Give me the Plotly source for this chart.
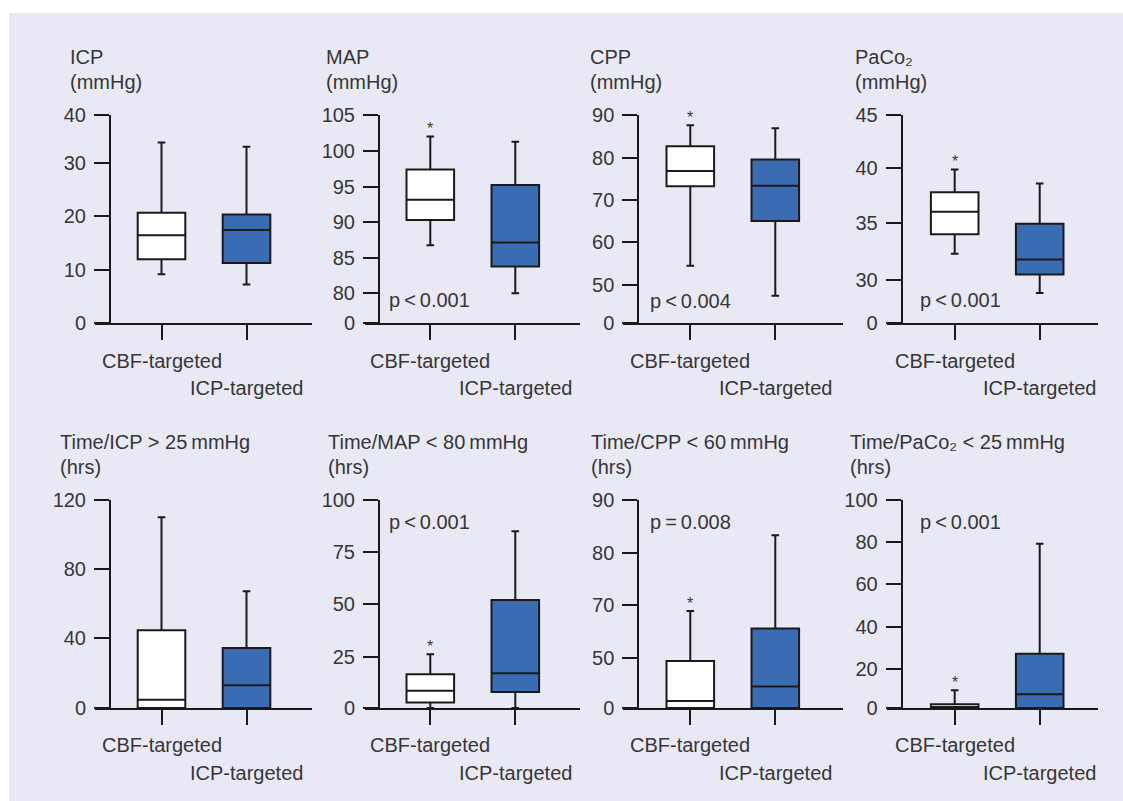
import numpy as np
import plotly.graph_objects as go

W, H = 1123, 801

groups = ["CBF-targeted", "ICP-targeted"]

# box stats per group: [lower whisker, q1, median, q3, upper whisker]
icp_cbf = [9.1, 11.9, 16.4, 20.6, 34.2]
icp_icp = [7.2, 11.2, 17.4, 20.3, 33.3]
map_cbf = [86.7, 90.2, 93.1, 97.4, 102.0]
map_icp = [79.9, 83.7, 87.1, 95.2, 101.3]
cpp_cbf = [54.5, 73.3, 76.9, 82.7, 87.6]
cpp_icp = [47.5, 65.1, 73.4, 79.6, 86.9]
paco2_cbf = [32.3, 34.0, 36.0, 37.8, 39.9]
paco2_icp = [28.9, 30.5, 31.8, 34.9, 38.6]
t_icp_cbf = [0, 0, 4.8, 44.6, 110.0]
t_icp_icp = [0, 0, 13.1, 34.4, 67.1]
t_map_cbf = [0, 2.7, 8.4, 16.5, 26.3]
t_map_icp = [0, 7.9, 17.0, 52.1, 84.9]
t_cpp_cbf = [0, 0, 7.0, 46.7, 67.8]
t_cpp_icp = [0, 0, 21.4, 61.1, 83.3]
t_paco2_cbf = [0, 0, 0.5, 1.9, 9.1]
t_paco2_icp = [0, 0, 7.1, 27.3, 79.3]

# tick labels
icp_ticks = [0, 10, 20, 30, 40]
map_ticks = [0, 80, 85, 90, 95, 100, 105]
cpp_ticks = [0, 50, 60, 70, 80, 90]
paco2_ticks = [0, 30, 35, 40, 45]
t_icp_ticks = [0, 40, 80, 120]
t_map_ticks = [0, 25, 50, 75, 100]
t_cpp_ticks = [0, 50, 70, 80, 90]
t_paco2_ticks = [0, 20, 40, 60, 80, 100]

titles = [
    ("ICP", "(mmHg)"), ("MAP", "(mmHg)"), ("CPP", "(mmHg)"), ("PaCo\u2082", "(mmHg)"),
    ("Time/ICP > 25\u2009mmHg", "(hrs)"), ("Time/MAP < 80\u2009mmHg", "(hrs)"),
    ("Time/CPP < 60\u2009mmHg", "(hrs)"), ("Time/PaCo\u2082 < 25\u2009mmHg", "(hrs)"),
]
p_texts = [None, "p\u2009<\u20090.001", "p\u2009<\u20090.004", "p\u2009<\u20090.001",
           None, "p\u2009<\u20090.001", "p\u2009=\u20090.008", "p\u2009<\u20090.001"]
stars = [False, True, True, True, False, True, True, True]

data = [
    (icp_cbf, icp_icp, icp_ticks), (map_cbf, map_icp, map_ticks),
    (cpp_cbf, cpp_icp, cpp_ticks), (paco2_cbf, paco2_icp, paco2_ticks),
    (t_icp_cbf, t_icp_icp, t_icp_ticks), (t_map_cbf, t_map_icp, t_map_ticks),
    (t_cpp_cbf, t_cpp_icp, t_cpp_ticks), (t_paco2_cbf, t_paco2_icp, t_paco2_ticks),
]

# ---- layout (pixels) ----
# tick offsets above the baseline, as drawn in the original (axes are uneven / broken)
tick_offsets = [
    [0, 53.5, 107, 160.5, 208],
    [0, 30.5, 65.5, 101.5, 136.5, 172, 208],
    [0, 38, 80.7, 122.7, 165.3, 208],
    [0, 42.7, 100.3, 154.7, 208],
    [0, 69.7, 139, 208],
    [0, 51, 103.7, 156.3, 208],
    [0, 50.3, 102.7, 155.3, 208],
    [0, 39, 81, 123.7, 165.7, 208],
]
broken = [False, True, True, True, False, False, False, False]
baselines = [323, 708]
col_yaxis = [110, 379, 638.3, 901.7]
col_left = [95, 365, 623.3, 887]
col_right = [312, 580, 843, 1098]
col_cbf = [161.5, 430.3, 690.3, 954.7]
spacing = 85
title_x = [[67.5, 324, 588, 853], [57.5, 325.5, 589, 848]]
title_y = [[57, 81.7], [441.7, 467.3]]
label_y = [[360.7, 388.3], [745, 773.3]]
p_pos = [[None, (387, 300), (648, 301), (918, 300)],
         [None, (387, 521.7), (648, 521.7), (918, 521.7)]]

FONT = "Liberation Sans, Arial, sans-serif"
TXT = "#363636"
LINE = "#1a1a1a"
BLUE = "#3a6cb3"
BG = "#e9e9f5"
LW = 2


def px(x):
    return x / W


def py(y):
    return 1 - y / H


def scale(vals, offs, brk):
    v = list(map(float, vals))
    if brk:
        v[0] = v[1] - (v[2] - v[1]) * offs[1] / (offs[2] - offs[1])
    return v


fig = go.Figure()
annotations = []

for i in range(8):
    row, col = divmod(i, 4)
    n = i + 1
    xa = "x" if n == 1 else f"x{n}"
    ya = "y" if n == 1 else f"y{n}"
    cbf, icp, ticks = data[i]
    offs = tick_offsets[i]
    vals = scale(ticks, offs, broken[i])

    def yp(v):
        return float(np.interp(v, vals, offs))

    base = baselines[row]
    x0 = 1 - (col_cbf[col] - col_left[col]) / spacing
    x1 = x0 + (col_right[col] - col_left[col]) / spacing

    for k, (stats, fill) in enumerate([(cbf, "white"), (icp, BLUE)]):
        lo, q1, med, q3, hi = [yp(s) for s in stats]
        fig.add_trace(go.Box(
            x=[k + 1], q1=[q1], median=[med], q3=[q3], lowerfence=[lo], upperfence=[hi],
            width=0.56, whiskerwidth=0.16, fillcolor=fill,
            line=dict(color=LINE, width=LW), boxpoints=False,
            xaxis=xa, yaxis=ya, showlegend=False, hoverinfo="skip",
        ))

    fig.layout[("xaxis" if n == 1 else f"xaxis{n}")] = dict(
        domain=[px(col_left[col]), px(col_right[col])], range=[x0, x1],
        anchor=ya, showline=True, linecolor=LINE, linewidth=LW,
        ticks="outside", ticklen=15, tickwidth=LW, tickcolor=LINE,
        tickvals=[1, 2], showticklabels=False, showgrid=False, zeroline=False,
        automargin=False,
    )
    fig.layout[("yaxis" if n == 1 else f"yaxis{n}")] = dict(
        domain=[py(base), py(base - 208)], range=[0, 208],
        anchor="free", position=px(col_yaxis[col]),
        showline=True, linecolor=LINE, linewidth=LW,
        ticks="outside", ticklen=15, tickwidth=LW, tickcolor=LINE,
        tickvals=offs, ticktext=[str(t) for t in ticks],
        tickfont=dict(size=20, color=TXT, family=FONT), ticklabelstandoff=4,
        showgrid=False, zeroline=False, automargin=False,
    )

    # titles
    for j, t in enumerate(titles[i]):
        annotations.append(dict(
            text=t, x=px(title_x[row][col]), y=py(title_y[row][j]),
            xref="paper", yref="paper", xanchor="left", yanchor="middle",
            showarrow=False, font=dict(size=20, color=TXT, family=FONT),
        ))
    # group labels, staggered
    for k, g in enumerate(groups):
        annotations.append(dict(
            text=g, x=px(col_cbf[col] + k * spacing), y=py(label_y[row][k]),
            xref="paper", yref="paper", xanchor="center", yanchor="middle",
            showarrow=False, font=dict(size=20, color=TXT, family=FONT),
        ))
    if p_texts[i]:
        pxp, pyp = p_pos[row][col]
        annotations.append(dict(
            text=p_texts[i], x=px(pxp), y=py(pyp),
            xref="paper", yref="paper", xanchor="left", yanchor="middle",
            showarrow=False, font=dict(size=20, color=TXT, family=FONT),
        ))
    if stars[i]:
        annotations.append(dict(
            text="*", x=1, y=yp(cbf[4]), xref=xa, yref=ya,
            xanchor="center", yanchor="middle", yshift=8,
            showarrow=False, font=dict(size=16, color=TXT, family=FONT),
        ))

fig.update_layout(
    width=W, height=H, margin=dict(l=0, r=0, t=0, b=0, autoexpand=False),
    paper_bgcolor="white", plot_bgcolor="rgba(0,0,0,0)",
    annotations=annotations,
    shapes=[dict(type="rect", xref="paper", yref="paper", x0=px(9), x1=1, y0=0, y1=py(13),
                 fillcolor=BG, line=dict(width=0), layer="below")],
)

fig.write_html(
    "out.html",
    config={"displayModeBar": False},
    post_script=(
        "document.body.style.margin='0';"
        "document.documentElement.style.overflow='hidden';"
        "var d=document.getElementById('{plot_id}');"
        "d.style.position='absolute';d.style.top='0';d.style.left='0';"
    ),
)
